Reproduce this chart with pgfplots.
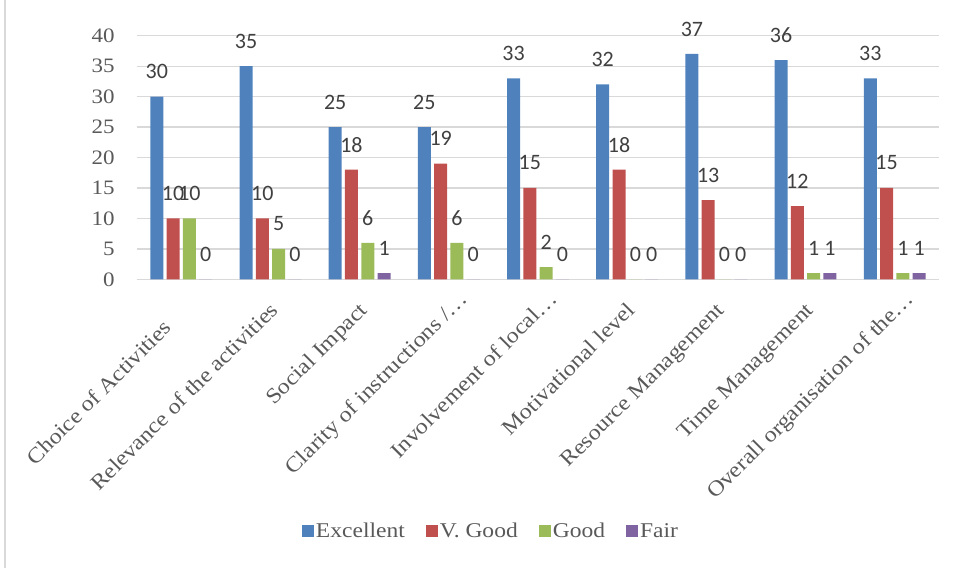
\documentclass[border=0pt]{standalone}
\usepackage{fontspec}
\setmainfont{Liberation Serif}[FakeStretch=1.12]
\newfontfamily\carlito{Carlito}
\usepackage{pgfplots}
\pgfplotsset{compat=1.18}
\definecolor{cexc}{HTML}{4F81BD}
\definecolor{cvg}{HTML}{C0504D}
\definecolor{cgood}{HTML}{9BBB59}
\definecolor{cfair}{HTML}{8064A2}
\definecolor{gridgray}{HTML}{D9D9D9}
\definecolor{tickgray}{HTML}{595959}
\definecolor{labgray}{HTML}{404040}
\pgfplotsset{sqlegend/.style={legend image code/.code={\fill[##1] (0pt,-6pt) rectangle (12pt,6pt);}}}
\begin{document}
\begin{tikzpicture}
\useasboundingbox (-136.7pt,-288.7pt) rectangle (821.3pt,279.3pt);
\draw[gridgray, line width=1.2pt] (-131.7pt,-288.7pt) -- (-131.7pt,279.3pt);
\begin{axis}[
  at={(0pt,0pt)}, anchor=south west,
  scale only axis, width=802.6pt, height=243.6pt,
  ybar=3.3pt, bar width=13pt,
  xmin=-0.5, xmax=8.5, ymin=0, ymax=40,
  xtick={0,...,8},
  xticklabels={{Choice of Activities\kern25pt}, Relevance of the activities, Social Impact, {Clarity of instructions /…\kern-16pt}, {Involvement of local…\kern-16pt}, Motivational level, Resource Management, Time Management, {Overall organisation of the…\kern-16pt}},
  ytick={0,5,...,40},
  /pgf/number format/assume math mode=true,
  axis line style={draw=none},
  major tick length=0pt,
  ymajorgrids, grid style={gridgray, line width=1.3pt},
  clip=false,
  yticklabel style={anchor=east, inner sep=0pt, xshift=-22pt, font=\fontsize{20.5}{24}\selectfont, text=tickgray},
  xticklabel style={inner sep=0pt, anchor=base east, xshift=9pt, yshift=-32pt, rotate=45, font=\fontsize{21.5}{24}\selectfont, text=tickgray},
  nodes near coords,
  every node near coord/.append style={font=\carlito\fontsize{22}{24}\selectfont, text=labgray, anchor=center, yshift=25pt},
  legend columns=-1,
  legend style={draw=none, fill=none, at={(0.4414,-1.033)}, anchor=center, font=\fontsize{21}{24}\selectfont, text=tickgray, nodes={inner sep=2pt}, /tikz/every even column/.append style={column sep=19pt}},
]
\addplot[fill=cexc, draw=none, sqlegend] coordinates {(0,30) (1,35) (2,25) (3,25) (4,33) (5,32) (6,37) (7,36) (8,33)};
\addlegendentry{Excellent}
\addplot[fill=cvg, draw=none, sqlegend] coordinates {(0,10) (1,10) (2,18) (3,19) (4,15) (5,18) (6,13) (7,12) (8,15)};
\addlegendentry{V. Good}
\addplot[fill=cgood, draw=none, sqlegend] coordinates {(0,10) (1,5) (2,6) (3,6) (4,2) (5,0) (6,0) (7,1) (8,1)};
\addlegendentry{Good}
\addplot[fill=cfair, draw=none, sqlegend] coordinates {(0,0) (1,0) (2,1) (3,0) (4,0) (5,0) (6,0) (7,1) (8,1)};
\addlegendentry{Fair}
\end{axis}
\end{tikzpicture}
\end{document}
